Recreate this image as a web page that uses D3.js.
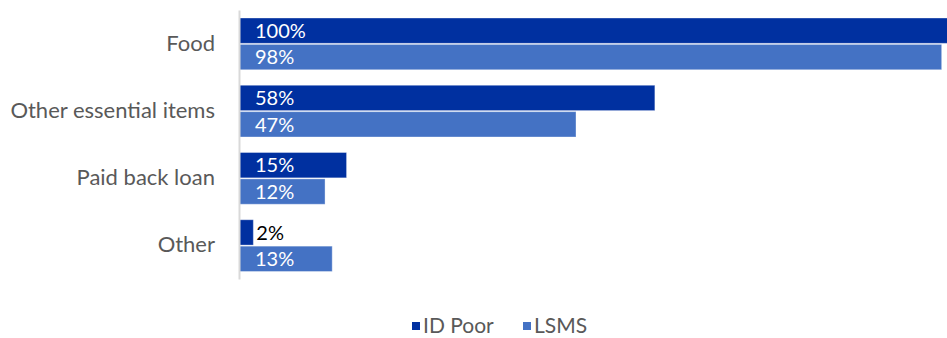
<!DOCTYPE html>
<html>
<head>
<meta charset="utf-8">
<script src="https://cdn.jsdelivr.net/npm/d3@7"></script>
<style>
  html, body { margin: 0; padding: 0; background: #fff; }
  svg { display: block; font-family: Lato, "Open Sans", sans-serif; }
</style>
</head>
<body>
<svg id="chart" width="947" height="338"></svg>
<script>
// Uses of the money received, by data source
const categories = ["Food", "Other essential items", "Paid back loan", "Other"];
const seriesNames = ["ID Poor", "LSMS"];
const idPoor = [100, 58, 15, 2];
const lsms = [98, 47, 12, 13];
const seriesColors = ["#0030A0", "#4472C4"];

const svg = d3.select("#chart");
const W = 947, H = 338;
const margin = { top: 10, right: 0, bottom: 59, left: 239 };

const x = d3.scaleLinear().domain([0, 100]).range([margin.left, margin.left + 717]);
const y = d3.scaleBand().domain(categories).range([margin.top, H - margin.bottom]).padding(0);
const inner = d3.scaleBand().domain(seriesNames)
  .range([8, y.bandwidth() - 7.5]).paddingInner(0.04);

const rows = categories.map((c, i) => ({ cat: c, vals: [idPoor[i], lsms[i]] }));

svg.append("defs").append("clipPath").attr("id", "plotclip")
  .append("rect").attr("x", 0).attr("y", 0).attr("width", W).attr("height", H);

const plot = svg.append("g").attr("clip-path", "url(#plotclip)");

const groups = plot.selectAll("g.cat").data(rows).join("g")
  .attr("class", "cat")
  .attr("transform", d => `translate(0,${y(d.cat)})`);

groups.selectAll("rect").data(d => d.vals.map((v, j) => ({ v, s: seriesNames[j], j }))).join("rect")
  .attr("x", x(0))
  .attr("y", d => inner(d.s))
  .attr("width", d => x(d.v) - x(0))
  .attr("height", inner.bandwidth())
  .attr("fill", d => seriesColors[d.j])
  .attr("stroke", "rgba(255,255,255,0.35)")
  .attr("stroke-width", 1);

// value labels: inside the bar when it fits, otherwise just past its end
const fits = d => x(d.v) - x(0) > 50;
groups.selectAll("text.val").data(d => d.vals.map((v, j) => ({ v, s: seriesNames[j], j }))).join("text")
  .attr("class", "val")
  .attr("x", d => fits(d) ? x(0) + 16 : x(d.v) + 3)
  .attr("y", d => inner(d.s) + inner.bandwidth() / 2)
  .attr("dy", "0.36em")
  .attr("font-size", 20)
  .attr("fill", d => fits(d) ? "#ffffff" : "#000000")
  .text(d => d.v + "%");

// category axis
const yAxis = svg.append("g")
  .attr("transform", `translate(${x(0)},0)`)
  .call(d3.axisLeft(y).tickSize(0).tickPadding(24));
yAxis.select(".domain").attr("stroke", "#d9d9d9").attr("stroke-width", 2);
yAxis.selectAll("text").attr("font-size", 22).attr("fill", "#595959")
  .attr("font-family", "Lato, 'Open Sans', sans-serif");

// legend
const legend = svg.append("g").attr("transform", "translate(412,326)");
const legendX = [0, 111];
seriesNames.forEach((name, i) => {
  const g = legend.append("g").attr("transform", `translate(${legendX[i]},0)`);
  g.append("rect").attr("x", 0).attr("y", -4).attr("width", 8).attr("height", 8)
    .attr("fill", seriesColors[i]);
  g.append("text").attr("x", 11).attr("y", 0).attr("dy", "0.33em")
    .attr("font-size", 21).attr("fill", "#595959").text(name);
});
</script>
</body>
</html>
